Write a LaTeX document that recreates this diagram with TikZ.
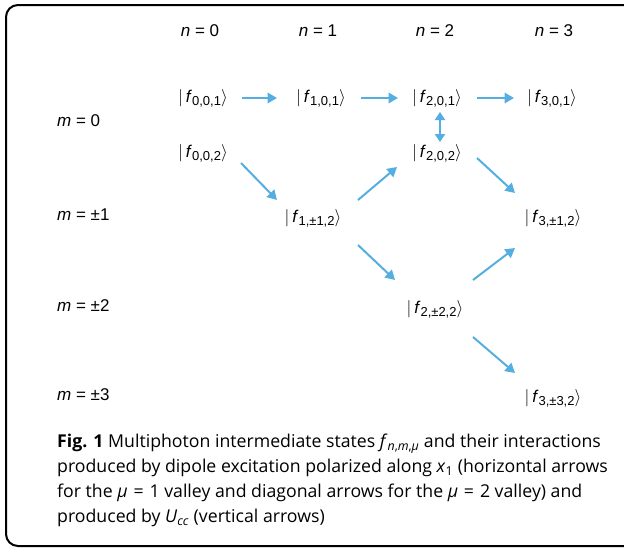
\documentclass[tikz,border=0pt]{standalone}
\usepackage{fontspec}
\setmainfont{Liberation Sans}
\newfontfamily\capfont{Open Sans}
\usetikzlibrary{arrows.meta,calc}
\definecolor{arrblue}{RGB}{84,174,224}
\newcommand{\myket}[1]{$|$\,\textit{f}\raisebox{-0.35ex}{\fontsize{13}{13}\selectfont #1}$\rangle$}
\begin{document}
\begin{tikzpicture}[x=1pt,y=-1pt,
  lab/.style={font=\fontsize{17}{20}\selectfont, inner sep=0pt},
  arr/.style={arrblue, line width=2pt, -{Triangle[length=9.5pt,width=10.5pt]}},
  darr/.style={arrblue, line width=2pt, {Triangle[length=8pt,width=10pt]}-{Triangle[length=8pt,width=10pt]}}]
\useasboundingbox (0,0) rectangle (624,552);
\draw[line width=2pt, rounded corners=12pt] (6,5) rectangle (640,546);
% column headers
\node[lab] (n0) at (200,31) {\textit{n} = 0};
\node[lab] (n1) at (318,31) {\textit{n} = 1};
\node[lab] (n2) at (435,31) {\textit{n} = 2};
\node[lab] (n3) at (554,31) {\textit{n} = 3};
% row headers
\node[lab,anchor=west] (m0) at (57,121) {\textit{m} = 0};
\node[lab,anchor=west] (m1) at (57,215) {\textit{m} = ±1};
\node[lab,anchor=west] (m2) at (57,306) {\textit{m} = ±2};
\node[lab,anchor=west] (m3) at (57,395) {\textit{m} = ±3};
% states
\node[lab] (f001) at (203,98) {\myket{0,0,1}};
\node[lab] (f101) at (321,98) {\myket{1,0,1}};
\node[lab] (f201) at (437,98) {\myket{2,0,1}};
\node[lab] (f301) at (552,98) {\myket{3,0,1}};
\node[lab] (f002) at (203,153) {\myket{0,0,2}};
\node[lab] (f202) at (437,153) {\myket{2,0,2}};
\node[lab] (f112) at (313,218) {\myket{1,±1,2}};
\node[lab] (f312) at (553,218) {\myket{3,±1,2}};
\node[lab] (f222) at (435,309) {\myket{2,±2,2}};
\node[lab] (f332) at (553,398) {\myket{3,±3,2}};
% horizontal arrows
\draw[arr] ($(f001)+(39,0)$) -- ($(f101)+(-44,0)$);
\draw[arr] ($(f101)+(40,0)$) -- ($(f201)+(-39,0)$);
\draw[arr] ($(f201)+(40,0)$) -- ($(f301)+(-38,0)$);
% vertical arrow
\draw[darr] ($(f201)+(3,14)$) -- ($(f202)+(3,-11)$);
% diagonal arrows
\draw[arr] ($(f002)+(38,10)$) -- ($(f112)+(-36,-18)$);
\draw[arr] ($(f112)+(45,-18)$) -- ($(f202)+(-40,14)$);
\draw[arr] ($(f202)+(40,5)$) -- ($(f312)+(-38,-25)$);
\draw[arr] ($(f112)+(45,27)$) -- ($(f222)+(-40,-29)$);
\draw[arr] ($(f222)+(38,-29)$) -- ($(f312)+(-38,30)$);
\draw[arr] ($(f222)+(38,28)$) -- ($(f332)+(-38,-25)$);
% caption
\node[anchor=north west, inner sep=0pt, align=left, font=\capfont\fontsize{17.7}{25}\selectfont] (cap) at (57,434)
{\textbf{Fig. 1} Multiphoton intermediate states \textit{f}\textsubscript{\textit{n},\textit{m},\textit{μ}} and their interactions\\
produced by dipole excitation polarized along \textit{x}\textsubscript{1} (horizontal arrows\\
for the \textit{μ}\,\,=\,\,1 valley and diagonal arrows for the \textit{μ}\,\,=\,\,2 valley) and\\
produced by \textit{U}\textsubscript{\textit{cc}} (vertical arrows)};
\end{tikzpicture}
\end{document}
